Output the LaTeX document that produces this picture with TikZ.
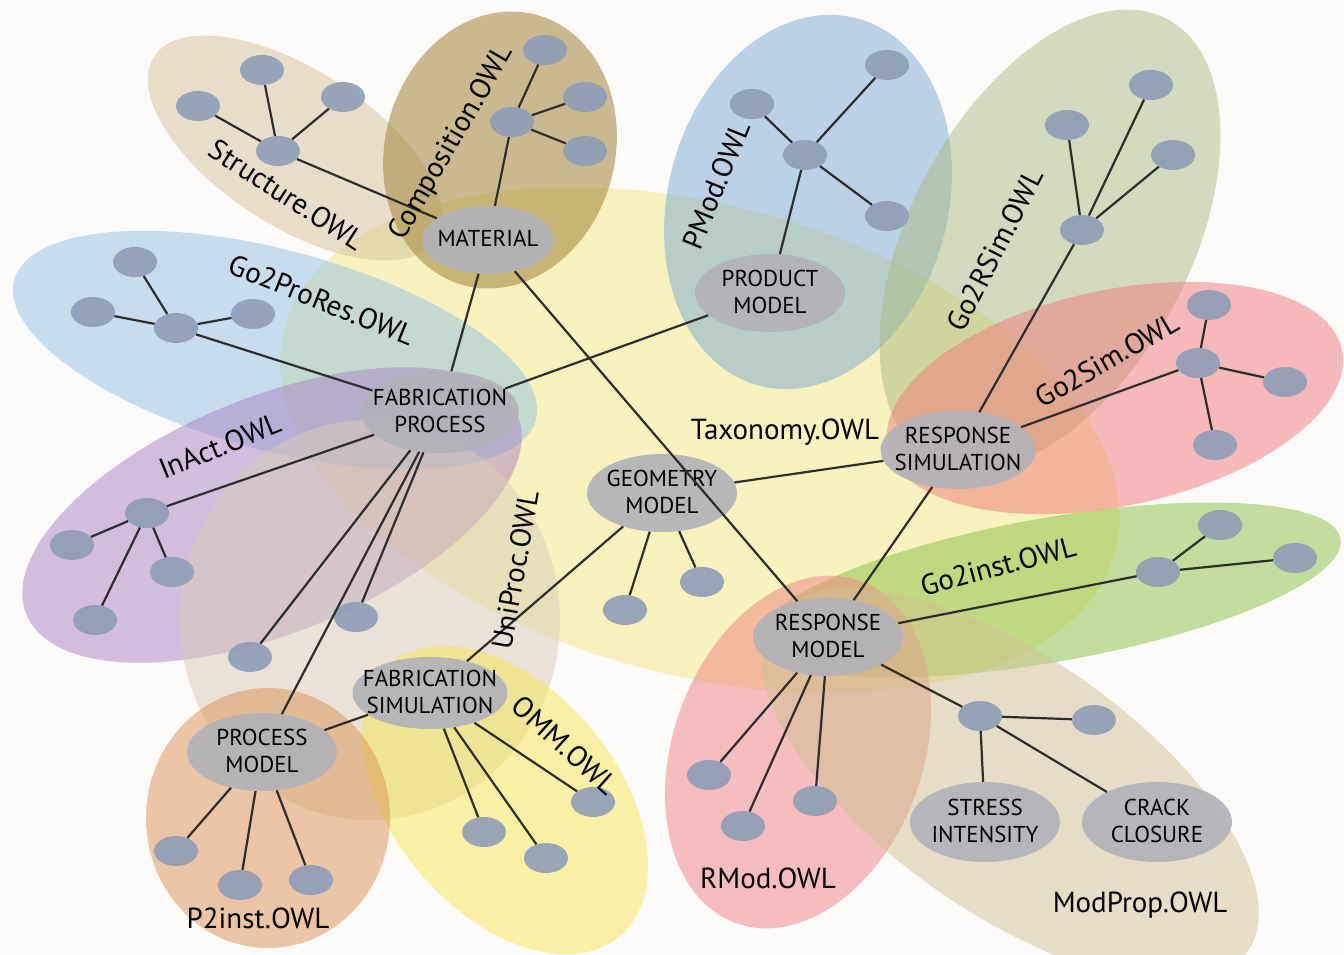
\documentclass[tikz,border=0pt]{standalone}
\usepackage{fontspec}
\setmainfont{PT Sans}
\usetikzlibrary{shapes.geometric}
\definecolor{bgc}{HTML}{FDFAFA}
\definecolor{cYel}{HTML}{F2E982}
\definecolor{cStr}{HTML}{D2C29A}
\definecolor{cCom}{HTML}{A88E48}
\definecolor{cPMod}{HTML}{7AAAD2}
\definecolor{cRSim}{HTML}{AABB82}
\definecolor{cSim}{HTML}{EE7A7A}
\definecolor{cInst}{HTML}{8AC244}
\definecolor{cPro}{HTML}{92C2E2}
\definecolor{cAct}{HTML}{AA82C2}
\definecolor{cUni}{HTML}{D8CCB8}
\definecolor{cOmm}{HTML}{F2E852}
\definecolor{cP2}{HTML}{DA9252}
\definecolor{cRMod}{HTML}{EE8282}
\definecolor{cMP}{HTML}{CEC292}
\definecolor{cNode}{HTML}{B2B2B8}
\definecolor{cDot}{HTML}{8E9DB7}
\definecolor{cLine}{HTML}{2E2E2E}
\newcommand{\ntxt}[1]{\makebox[0pt]{\smash{\raisebox{-0.32em}{\begin{tabular}{@{}c@{}}#1\end{tabular}}}}}
\begin{document}
\begin{tikzpicture}[x=1pt,y=-1pt,
  blob/.style={fill opacity=0.5},
  bignode/.style={ellipse, fill=cNode, fill opacity=0.92, text opacity=1, inner sep=0pt,
    minimum width=150pt, minimum height=78pt,
    font=\fontsize{23}{27}\selectfont},
  dot/.style={ellipse, fill=cDot, fill opacity=0.9, inner sep=0pt,
    minimum width=44pt, minimum height=30pt},
  lbl/.style={font=\fontsize{29}{32}\selectfont, inner sep=0pt},
  conn/.style={draw=cLine, line width=2.2pt}]
\useasboundingbox (0,0) rectangle (1344,955);
\fill[bgc] (0,0) rectangle (1344,955);
% blobs
\fill[blob, cYel, rotate around={-15:(700,440)}] (700,440) ellipse [x radius=430pt, y radius=235pt];
\fill[blob, cStr, rotate around={-33:(295,148)}] (295,148) ellipse [x radius=168pt, y radius=78pt];
\fill[blob, cCom, fill opacity=0.6, rotate around={-15:(500,150)}] (500,150) ellipse [x radius=115pt, y radius=140pt];
\fill[blob, cPMod, rotate around={-15:(808,202)}] (808,202) ellipse [x radius=140pt, y radius=190pt];
\fill[blob, cRSim, rotate around={62:(1050,240)}] (1050,240) ellipse [x radius=250pt, y radius=140pt];
\fill[blob, cSim, rotate around={12:(1115,398)}] (1115,398) ellipse [x radius=232pt, y radius=108pt];
\fill[blob, cInst, rotate around={10:(1050,590)}] (1050,590) ellipse [x radius=295pt, y radius=72pt];
\fill[blob, cPro, rotate around={-15:(275,350)}] (275,350) ellipse [x radius=270pt, y radius=100pt];
\fill[blob, cAct, rotate around={22:(272,515)}] (272,515) ellipse [x radius=265pt, y radius=118pt];
\fill[blob, cUni] (370,620) ellipse [x radius=190pt, y radius=200pt];
\fill[blob, cOmm, rotate around={-50:(505,800)}] (505,800) ellipse [x radius=178pt, y radius=112pt];
\fill[blob, cP2] (268,818) ellipse [x radius=122pt, y radius=130pt];
\fill[blob, cRMod, rotate around={-20:(798,752)}] (798,752) ellipse [x radius=125pt, y radius=182pt];
\fill[blob, cMP, rotate around={-35:(1010,785)}] (1010,785) ellipse [x radius=290pt, y radius=128pt];
% main nodes
\node[bignode, minimum width=132pt, minimum height=68pt] (mat) at (488,240) {\ntxt{MATERIAL}};
\node[bignode] (prod) at (770,293) {\ntxt{PRODUCT\\MODEL}};
\node[bignode, minimum width=158pt, minimum height=82pt] (fab) at (440,412) {\ntxt{FABRICATION\\PROCESS}};
\node[bignode] (geo) at (662,493) {\ntxt{GEOMETRY\\MODEL}};
\node[bignode, minimum width=155pt] (rsim) at (958,450) {\ntxt{RESPONSE\\SIMULATION}};
\node[bignode] (rmod) at (828,637) {\ntxt{RESPONSE\\MODEL}};
\node[bignode, minimum width=155pt, minimum height=72pt] (fsim) at (430,693) {\ntxt{FABRICATION\\SIMULATION}};
\node[bignode] (pm) at (262,752) {\ntxt{PROCESS\\MODEL}};
\node[bignode, minimum height=80pt] (si) at (985,822) {\ntxt{STRESS\\INTENSITY}};
\node[bignode, minimum height=80pt] (cc) at (1157,822) {\ntxt{CRACK\\CLOSURE}};
% small dots
\foreach \n/\x/\y in {st0/278/151, st1/198/106, st2/262/70, st3/343/97,
  co0/512/122, co1/545/50, co2/585/97, co3/585/151,
  pmo0/805/155, pmo1/752/104, pmo2/887/65, pmo3/887/216,
  rs0/1082/230, rs1/1067/125, rs2/1151/85, rs3/1173/155,
  gs0/1198/363, gs1/1209/305, gs2/1285/382, gs3/1215/445,
  gi0/1158/572, gi1/1220/525, gi2/1295/558,
  pr0/176/328, pr1/135/262, pr2/93/312, pr3/253/314,
  ia0/147/513, ia1/72/545, ia2/172/572, ia3/95/620,
  fp1/356/617, fp2/250/657, ge1/625/610, ge2/702/582,
  fs1/484/832, fs2/546/858, fs3/593/802,
  pm1/176/851, pm2/240/885, pm3/311/880,
  rm1/709/775, rm2/743/826, rm3/815/801, mp0/980/716, mp1/1094/720}
  \node[dot] (\n) at (\x,\y) {};
% connectors
\foreach \a/\b in {st0/st1, st0/st2, st0/st3, st0/mat,
  co0/co1, co0/co2, co0/co3, co0/mat, mat/fab, mat/rmod,
  pmo0/pmo1, pmo0/pmo2, pmo0/pmo3, pmo0/prod, prod/fab,
  rs0/rs1, rs0/rs2, rs0/rs3, rs0/rsim,
  gs0/gs1, gs0/gs2, gs0/gs3, gs0/rsim, rsim/geo, rsim/rmod,
  rmod/gi0, gi0/gi1, gi0/gi2,
  pr0/pr1, pr0/pr2, pr0/pr3, pr0/fab,
  ia0/ia1, ia0/ia2, ia0/ia3, ia0/fab,
  fab/fp1, fab/fp2, fab/pm, geo/ge1, geo/ge2, geo/fsim,
  fsim/pm, fsim/fs1, fsim/fs2, fsim/fs3,
  pm/pm1, pm/pm2, pm/pm3,
  rmod/rm1, rmod/rm2, rmod/rm3, rmod/mp0, mp0/mp1, mp0/si, mp0/cc}
  \draw[conn] (\a) -- (\b);
% labels
\node[lbl, rotate=-33] (lStr) at (287,195) {Structure.OWL};
\node[lbl, rotate=60] (lCom) at (452,143) {Composition.OWL};
\node[lbl, rotate=68] (lPMod) at (716,185) {PMod.OWL};
\node[lbl, rotate=63] (lRSim) at (995,250) {Go2RSim.OWL};
\node[lbl, rotate=30] (lSim) at (1107,360) {Go2Sim.OWL};
\node[lbl, rotate=15] (lInst) at (998,566) {Go2inst.OWL};
\node[lbl, rotate=-22] (lPro) at (322,300) {Go2ProRes.OWL};
\node[lbl, rotate=22] (lAct) at (220,446) {InAct.OWL};
\node[lbl] (lTax) at (785,432) {Taxonomy.OWL};
\node[lbl, rotate=80] (lUni) at (515,570) {UniProc.OWL};
\node[lbl, rotate=-42] (lOmm) at (565,745) {OMM.OWL};
\node[lbl] (lP2) at (258,918) {P2inst.OWL};
\node[lbl] (lRMod) at (768,878) {RMod.OWL};
\node[lbl] (lMP) at (1140,905) {ModProp.OWL};
\end{tikzpicture}
\end{document}
